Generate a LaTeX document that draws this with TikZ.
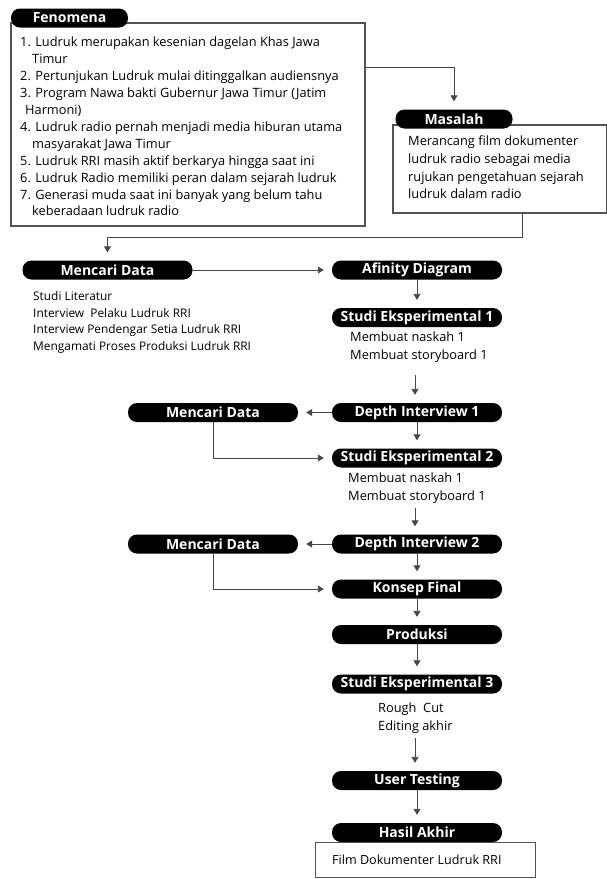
\documentclass[tikz,border=0pt]{standalone}
\usepackage{fontspec}
\setmainfont{Open Sans}
\usetikzlibrary{arrows.meta,positioning}
\tikzset{
  pill/.style={rounded corners=9pt, fill=black, text=white,
    font=\bfseries\fontsize{14}{16}\selectfont,
    minimum width=170pt, minimum height=19pt, inner sep=0pt},
  tab/.style={pill, minimum width=117pt, minimum height=19pt},
  frame/.style={draw=gray!65!black, line width=1.3pt, inner sep=0pt},
  flow/.style={draw=gray!55!black, line width=0.9pt, shorten >=8pt,
    -{Triangle[width=7pt,length=6pt]}},
  note/.style={align=left, anchor=north west, inner sep=0pt,
    font=\fontsize{12.8}{16.9}\selectfont},
}
\begin{document}
\begin{tikzpicture}[x=1pt, y=-1pt]
  \useasboundingbox (0,0) rectangle (607,879);
  % Fenomena
  \node[frame, minimum width=354pt, minimum height=203pt] (fen-box) at (188,124.5) {};
  \node[tab] (fenomena) at (69.5,18) {Fenomena};
  \node[note] (fen-list) at (20,37) {1. Ludruk merupakan kesenian dagelan Khas Jawa\\
    \hspace*{12pt}Timur\\
    2. Pertunjukan Ludruk mulai ditinggalkan audiensnya\\
    3. Program Nawa bakti Gubernur Jawa Timur (Jatim\\
    \hspace*{5pt}Harmoni)\\
    4. Ludruk radio pernah menjadi media hiburan utama\\
    \hspace*{12pt}masyarakat Jawa Timur\\
    5. Ludruk RRI masih aktif berkarya hingga saat ini\\
    6. Ludruk Radio memiliki peran dalam sejarah ludruk\\
    7. Generasi muda saat ini banyak yang belum tahu\\
    \hspace*{12pt}keberadaan ludruk radio};
  % Masalah
  \node[frame, minimum width=214pt, minimum height=88pt] (mas-box) at (500,169) {};
  \node[tab] (masalah) at (454,119) {Masalah};
  \node[note, font=\fontsize{12.8}{17.6}\selectfont] (mas-list) at (408,136)
    {Merancang film dokumenter\\ludruk radio sebagai media\\
     rujukan pengetahuan sejarah\\ludruk dalam radio};
  \draw[flow] (fen-box.east |- 0,67) -| (masalah.north);
  % alur utama
  \node[pill] (mencari-1) at (107.5,270) {Mencari Data};
  \node[pill] (affinity) at (417,270) {Afinity Diagram};
  \node[note, font=\fontsize{11.9}{16.8}\selectfont] (mencari-list) at (33,291)
    {Studi Literatur\\Interview\ \ Pelaku Ludruk RRI\\
     Interview Pendengar Setia Ludruk RRI\\Mengamati Proses Produksi Ludruk RRI};
  \node[pill] (studi-1) at (417,317.5) {Studi Eksperimental 1};
  \node[note, font=\fontsize{12.8}{18}\selectfont] (studi-1-list) at (350,332)
    {Membuat naskah 1\\Membuat storyboard 1};
  \node[pill] (depth-1) at (417,412.5) {Depth Interview 1};
  \node[pill] (mencari-2) at (213,412.5) {Mencari Data};
  \node[pill] (studi-2) at (417,458) {Studi Eksperimental 2};
  \node[note, font=\fontsize{12.8}{18}\selectfont] (studi-2-list) at (348,473)
    {Membuat naskah 1\\Membuat storyboard 1};
  \node[pill] (depth-2) at (417,544) {Depth Interview 2};
  \node[pill] (mencari-3) at (213,544) {Mencari Data};
  \node[pill] (konsep) at (417,589) {Konsep Final};
  \node[pill] (produksi) at (417,634.5) {Produksi};
  \node[pill] (studi-3) at (417,684) {Studi Eksperimental 3};
  \node[note, font=\fontsize{12.8}{18}\selectfont] (studi-3-list) at (378,703)
    {Rough\ \ Cut\\Editing akhir};
  \node[pill] (testing) at (417,780.5) {User Testing};
  \node[pill] (hasil) at (417,832.5) {Hasil Akhir};
  \node[frame, line width=1pt, minimum width=220pt, minimum height=35pt,
    anchor=north] (hasil-box) at (425,842) {};
  \node[note, anchor=west, font=\fontsize{12.6}{15}\selectfont] (hasil-text)
    at (332,860) {Film Dokumenter Ludruk RRI};
  \coordinate (studi-1-end) at (415,375);
  \coordinate (studi-2-end) at (415,508);
  \coordinate (studi-3-end) at (415,738);
  % penghubung
  \draw[flow] (mas-box.south -| 522,0) -- (522,237) -| (mencari-1.north);
  \draw[flow] (mencari-1) -- (affinity);
  \draw[flow] (affinity) -- (studi-1);
  \draw[flow] (studi-1-end) -- (depth-1.north -| studi-1-end);
  \draw[flow] (depth-1) -- (mencari-2);
  \draw[flow] (depth-1) -- (studi-2);
  \draw[flow] (mencari-2.south) |- (studi-2.west);
  \draw[flow] (studi-2-end) -- (depth-2.north -| studi-2-end);
  \draw[flow] (depth-2) -- (mencari-3);
  \draw[flow] (depth-2) -- (konsep);
  \draw[flow] (mencari-3.south) |- (konsep.west);
  \draw[flow] (konsep) -- (produksi);
  \draw[flow] (produksi) -- (studi-3);
  \draw[flow] (studi-3-end) -- (testing.north -| studi-3-end);
  \draw[flow] (testing) -- (hasil);
\end{tikzpicture}
\end{document}
